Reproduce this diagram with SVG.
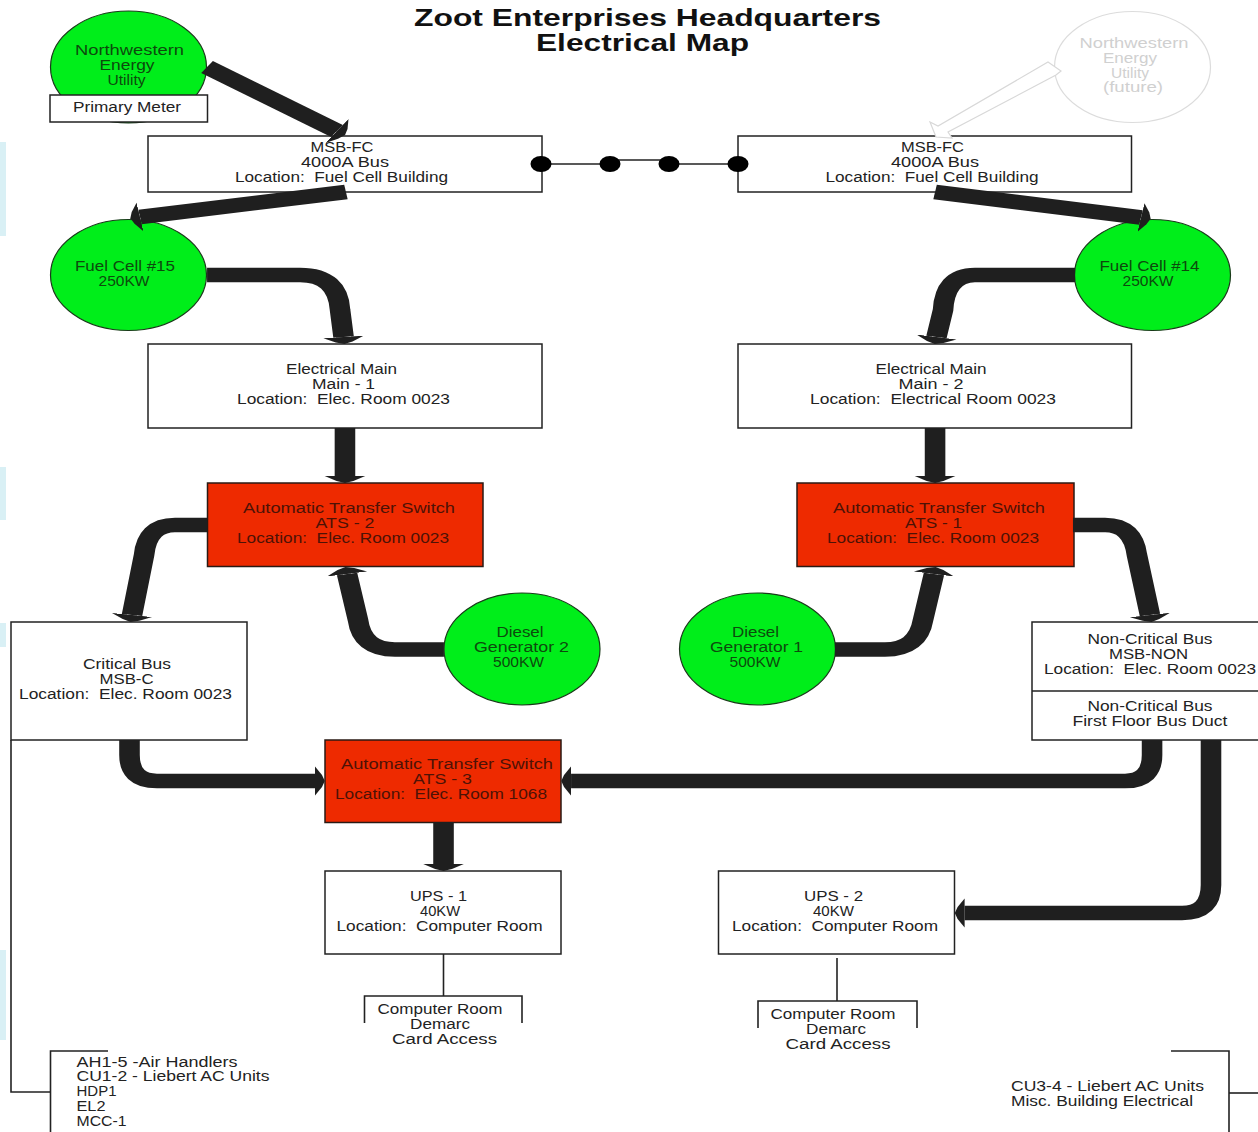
<svg xmlns="http://www.w3.org/2000/svg" width="1258" height="1132" viewBox="0 0 1258 1132">
  <style>
    text { font-family: "Liberation Sans", Arial, sans-serif; font-size: 14px; fill: #222; text-anchor: middle; white-space: pre; }
    .l { text-anchor: start; }
    .title { font-weight: bold; font-size: 23.5px; fill: #111; }
    .onred { fill: #4d1206; }
    .ongreen { fill: #0d4a0d; }
    .faint { fill: #d0d0d0; }
    .box { fill: #fff; stroke: #222; stroke-width: 1.5; }
    .red { fill: #ee2a00; stroke: #2a1a14; stroke-width: 1.5; }
    .green { fill: #00ee1a; stroke: #1a3a1a; stroke-width: 1.2; }
    .ghost { fill: #fff; stroke: #dcdcdc; stroke-width: 1.2; }
    .thin { fill: none; stroke: #222; stroke-width: 1.6; }
    .pipe { fill: none; stroke: #1f1f1f; stroke-width: 14.7; marker-end: url(#head); }
    .dot { fill: #000; }
    .bg { fill: #d9f0f5; }
  </style>
  <defs>
    <marker id="head" markerUnits="userSpaceOnUse" viewBox="0 -16 12 32" refX="0" refY="0" markerWidth="12" markerHeight="32" orient="auto">
      <path d="M0 -14.500L5 -6L7 0L5 6L0 14.500Z" fill="#1f1f1f"/>
    </marker>
  </defs>
  <rect width="1258" height="1132" fill="#fff"/>
  <g id="background-edge">
    <rect class="bg" x="0" y="142" width="6" height="94"/>
    <rect class="bg" x="0" y="467" width="6" height="53"/>
    <rect class="bg" x="0" y="623" width="6" height="24"/>
    <rect class="bg" x="0" y="950" width="6" height="90"/>
  </g>
  <g id="title">
    <text class="title" x="647.500" y="26" textLength="467" lengthAdjust="spacingAndGlyphs">Zoot Enterprises Headquarters</text>
    <text class="title" x="642.500" y="51" textLength="213" lengthAdjust="spacingAndGlyphs">Electrical Map</text>
  </g>
  <g id="utility-west">
    <ellipse class="green" cx="128.500" cy="67" rx="78" ry="56"/>
    <text class="ongreen" x="129.500" y="55" textLength="109" lengthAdjust="spacingAndGlyphs">Northwestern</text>
    <text class="ongreen" x="127" y="70" textLength="55" lengthAdjust="spacingAndGlyphs">Energy</text>
    <text class="ongreen" x="126.500" y="85" textLength="38" lengthAdjust="spacingAndGlyphs">Utility</text>
  </g>
  <g id="primary-meter">
    <rect class="box" x="50" y="95" width="157.500" height="27"/>
    <text x="127" y="111.500" textLength="108" lengthAdjust="spacingAndGlyphs">Primary Meter</text>
  </g>
  <g id="utility-future">
    <ellipse class="ghost" cx="1132.500" cy="67" rx="78" ry="55.500"/>
    <text class="faint" x="1134" y="48" textLength="109" lengthAdjust="spacingAndGlyphs">Northwestern</text>
    <text class="faint" x="1130" y="63" textLength="54" lengthAdjust="spacingAndGlyphs">Energy</text>
    <text class="faint" x="1130" y="77.500" textLength="38" lengthAdjust="spacingAndGlyphs">Utility</text>
    <text class="faint" x="1133" y="92" textLength="60" lengthAdjust="spacingAndGlyphs">(future)</text>
  </g>
  <g id="msb-fc-left">
    <rect class="box" x="148" y="136" width="394" height="56"/>
    <text x="342" y="151.500" textLength="63" lengthAdjust="spacingAndGlyphs">MSB-FC</text>
    <text x="345" y="166.500" textLength="88" lengthAdjust="spacingAndGlyphs">4000A Bus</text>
    <text x="341.500" y="181.500" textLength="213" lengthAdjust="spacingAndGlyphs">Location:  Fuel Cell Building</text>
  </g>
  <g id="msb-fc-right">
    <rect class="box" x="738" y="136" width="393.500" height="56"/>
    <text x="932.500" y="151.500" textLength="63" lengthAdjust="spacingAndGlyphs">MSB-FC</text>
    <text x="935" y="166.500" textLength="88" lengthAdjust="spacingAndGlyphs">4000A Bus</text>
    <text x="932" y="181.500" textLength="213" lengthAdjust="spacingAndGlyphs">Location:  Fuel Cell Building</text>
  </g>
  <g id="fuel-cell-15">
    <ellipse class="green" cx="128.500" cy="275" rx="78" ry="55.500"/>
    <text class="ongreen" x="125" y="271" textLength="100" lengthAdjust="spacingAndGlyphs">Fuel Cell #15</text>
    <text class="ongreen" x="124" y="285.500" textLength="51" lengthAdjust="spacingAndGlyphs">250KW</text>
  </g>
  <g id="fuel-cell-14">
    <ellipse class="green" cx="1152.500" cy="275" rx="78" ry="55.500"/>
    <text class="ongreen" x="1149.500" y="271" textLength="100" lengthAdjust="spacingAndGlyphs">Fuel Cell #14</text>
    <text class="ongreen" x="1148" y="285.500" textLength="51" lengthAdjust="spacingAndGlyphs">250KW</text>
  </g>
  <g id="main-1">
    <rect class="box" x="148" y="344" width="394" height="84"/>
    <text x="341.500" y="374" textLength="111" lengthAdjust="spacingAndGlyphs">Electrical Main</text>
    <text x="343.500" y="389" textLength="63" lengthAdjust="spacingAndGlyphs">Main - 1</text>
    <text x="343.500" y="404" textLength="213" lengthAdjust="spacingAndGlyphs">Location:  Elec. Room 0023</text>
  </g>
  <g id="main-2">
    <rect class="box" x="738" y="344" width="393.500" height="84"/>
    <text x="931" y="374" textLength="111" lengthAdjust="spacingAndGlyphs">Electrical Main</text>
    <text x="931" y="389" textLength="65" lengthAdjust="spacingAndGlyphs">Main - 2</text>
    <text x="933" y="404" textLength="246" lengthAdjust="spacingAndGlyphs">Location:  Electrical Room 0023</text>
  </g>
  <g id="ats-2">
    <rect class="red" x="207.500" y="483" width="275.500" height="83.500"/>
    <text class="onred" x="349" y="513" textLength="212" lengthAdjust="spacingAndGlyphs">Automatic Transfer Switch</text>
    <text class="onred" x="345" y="528" textLength="59" lengthAdjust="spacingAndGlyphs">ATS - 2</text>
    <text class="onred" x="343" y="543" textLength="212" lengthAdjust="spacingAndGlyphs">Location:  Elec. Room 0023</text>
  </g>
  <g id="ats-1">
    <rect class="red" x="797" y="483" width="277" height="83.500"/>
    <text class="onred" x="939" y="513" textLength="212" lengthAdjust="spacingAndGlyphs">Automatic Transfer Switch</text>
    <text class="onred" x="933.500" y="528" textLength="57" lengthAdjust="spacingAndGlyphs">ATS - 1</text>
    <text class="onred" x="933" y="543" textLength="212" lengthAdjust="spacingAndGlyphs">Location:  Elec. Room 0023</text>
  </g>
  <g id="diesel-2">
    <ellipse class="green" cx="522" cy="649" rx="78" ry="56"/>
    <text class="ongreen" x="520" y="637" textLength="47" lengthAdjust="spacingAndGlyphs">Diesel</text>
    <text class="ongreen" x="521.500" y="652" textLength="95" lengthAdjust="spacingAndGlyphs">Generator 2</text>
    <text class="ongreen" x="518.500" y="667" textLength="51" lengthAdjust="spacingAndGlyphs">500KW</text>
  </g>
  <g id="diesel-1">
    <ellipse class="green" cx="757.500" cy="649" rx="78" ry="56"/>
    <text class="ongreen" x="755.500" y="637" textLength="47" lengthAdjust="spacingAndGlyphs">Diesel</text>
    <text class="ongreen" x="756.500" y="652" textLength="93" lengthAdjust="spacingAndGlyphs">Generator 1</text>
    <text class="ongreen" x="755" y="667" textLength="51" lengthAdjust="spacingAndGlyphs">500KW</text>
  </g>
  <g id="critical-bus">
    <rect class="box" x="11" y="622" width="236" height="118"/>
    <text x="127" y="669" textLength="88" lengthAdjust="spacingAndGlyphs">Critical Bus</text>
    <text x="126.500" y="684" textLength="54" lengthAdjust="spacingAndGlyphs">MSB-C</text>
    <text x="125.500" y="699" textLength="213" lengthAdjust="spacingAndGlyphs">Location:  Elec. Room 0023</text>
  </g>
  <g id="non-critical-bus">
    <rect class="box" x="1032" y="622" width="232" height="118"/>
    <line class="thin" x1="1032" y1="691" x2="1258" y2="691"/>
    <text x="1150" y="644" textLength="125" lengthAdjust="spacingAndGlyphs">Non-Critical Bus</text>
    <text x="1148.500" y="659" textLength="79" lengthAdjust="spacingAndGlyphs">MSB-NON</text>
    <text x="1150" y="674" textLength="212" lengthAdjust="spacingAndGlyphs">Location:  Elec. Room 0023</text>
    <text x="1150" y="711" textLength="125" lengthAdjust="spacingAndGlyphs">Non-Critical Bus</text>
    <text x="1150" y="726" textLength="155" lengthAdjust="spacingAndGlyphs">First Floor Bus Duct</text>
  </g>
  <g id="ats-3">
    <rect class="red" x="325" y="740" width="236" height="82.500"/>
    <text class="onred" x="447" y="769" textLength="212" lengthAdjust="spacingAndGlyphs">Automatic Transfer Switch</text>
    <text class="onred" x="442.500" y="784" textLength="59" lengthAdjust="spacingAndGlyphs">ATS - 3</text>
    <text class="onred" x="441" y="799" textLength="212" lengthAdjust="spacingAndGlyphs">Location:  Elec. Room 1068</text>
  </g>
  <g id="ups-1">
    <rect class="box" x="325" y="871" width="236" height="83"/>
    <text x="438.500" y="901" textLength="57" lengthAdjust="spacingAndGlyphs">UPS - 1</text>
    <text x="440" y="916" textLength="40" lengthAdjust="spacingAndGlyphs">40KW</text>
    <text x="439.500" y="931" textLength="206" lengthAdjust="spacingAndGlyphs">Location:  Computer Room</text>
  </g>
  <g id="ups-2">
    <rect class="box" x="718.500" y="871" width="236" height="83"/>
    <text x="833.500" y="901" textLength="59" lengthAdjust="spacingAndGlyphs">UPS - 2</text>
    <text x="833.500" y="916" textLength="41" lengthAdjust="spacingAndGlyphs">40KW</text>
    <text x="835" y="931" textLength="206" lengthAdjust="spacingAndGlyphs">Location:  Computer Room</text>
  </g>
  <g id="demarc-1">
    <path class="thin" d="M364.500 1023V996H522V1023"/>
    <text x="440" y="1014" textLength="125" lengthAdjust="spacingAndGlyphs">Computer Room</text>
    <text x="440" y="1029" textLength="60" lengthAdjust="spacingAndGlyphs">Demarc</text>
    <text x="444.500" y="1044" textLength="105" lengthAdjust="spacingAndGlyphs">Card Access</text>
  </g>
  <g id="demarc-2">
    <path class="thin" d="M758 1028V1001H917V1028"/>
    <text x="833" y="1019" textLength="125" lengthAdjust="spacingAndGlyphs">Computer Room</text>
    <text x="836" y="1034" textLength="60" lengthAdjust="spacingAndGlyphs">Demarc</text>
    <text x="838" y="1049" textLength="105" lengthAdjust="spacingAndGlyphs">Card Access</text>
  </g>
  <g id="panel-left">
    <path class="thin" d="M108 1051H50.500V1132"/>
    <text class="l" x="76.500" y="1067" textLength="161" lengthAdjust="spacingAndGlyphs">AH1-5 -Air Handlers</text>
    <text class="l" x="76.500" y="1081" textLength="193" lengthAdjust="spacingAndGlyphs">CU1-2 - Liebert AC Units</text>
    <text class="l" x="76.500" y="1096" textLength="40" lengthAdjust="spacingAndGlyphs">HDP1</text>
    <text class="l" x="76.500" y="1111" textLength="29" lengthAdjust="spacingAndGlyphs">EL2</text>
    <text class="l" x="76.500" y="1126" textLength="50" lengthAdjust="spacingAndGlyphs">MCC-1</text>
  </g>
  <g id="panel-right">
    <path class="thin" d="M1171 1051H1229V1132"/>
    <text class="l" x="1011" y="1091" textLength="193" lengthAdjust="spacingAndGlyphs">CU3-4 - Liebert AC Units</text>
    <text class="l" x="1011" y="1106" textLength="182" lengthAdjust="spacingAndGlyphs">Misc. Building Electrical</text>
  </g>
  <g id="connectors">
    <polygon points="1048,62 1061,71 1056,75 948,132 952,138 936,137 930,122 938,126" fill="#fff" stroke="#d8d8d8" stroke-width="1.2"/>
    <g id="power-feeds" transform="scale(1.4 1)">
      <path class="pipe" d="M147.900 67L240.700 131"/>
      <path class="pipe" d="M247.100 192L100 217"/>
      <path class="pipe" d="M667.900 192L815 217.500"/>
      <path class="pipe" d="M147.900 275H214.300Q241.400 275 242.900 310L245.400 337"/>
      <path class="pipe" d="M767.900 275H696.400Q675 275 673.600 310L668.900 337"/>
      <path class="pipe" d="M246.400 428V476"/>
      <path class="pipe" d="M667.900 428V476"/>
      <path class="pipe" d="M147.900 525H125Q105 525 102.900 555L94.300 615"/>
      <path class="pipe" d="M317.100 649.500H282.100Q258.600 649.500 255.700 620L247.900 574"/>
      <path class="pipe" d="M766.400 525H789.300Q809.300 525 812.100 555L821.400 615"/>
      <path class="pipe" d="M596.400 649.500H632.100Q655.700 649.500 659.300 620L667.100 574"/>
      <path class="pipe" d="M92.500 740V755Q92.500 781 112.100 781H225"/>
      <path class="pipe" d="M822.900 740V755Q822.900 781 803.600 781H407.900"/>
      <path class="pipe" d="M316.800 822V864"/>
      <path class="pipe" d="M865 740V885Q865 913 844.300 913H689"/>
    </g>
    <path class="thin" d="M541 164H610"/>
    <path class="thin" d="M610 160H669" stroke-width="2.500"/>
    <path class="thin" d="M669 164H738"/>
    <ellipse class="dot" cx="541" cy="164" rx="10.500" ry="8"/>
    <ellipse class="dot" cx="610" cy="164" rx="10.500" ry="8"/>
    <ellipse class="dot" cx="669" cy="164" rx="10.500" ry="8"/>
    <ellipse class="dot" cx="738" cy="164" rx="10.500" ry="8"/>
    <path class="thin" d="M443.500 954V996"/>
    <path class="thin" d="M837 958V1001"/>
    <path class="thin" d="M11 740V1092H50"/>
    <path class="thin" d="M1229 1093H1258"/>
  </g>
</svg>
